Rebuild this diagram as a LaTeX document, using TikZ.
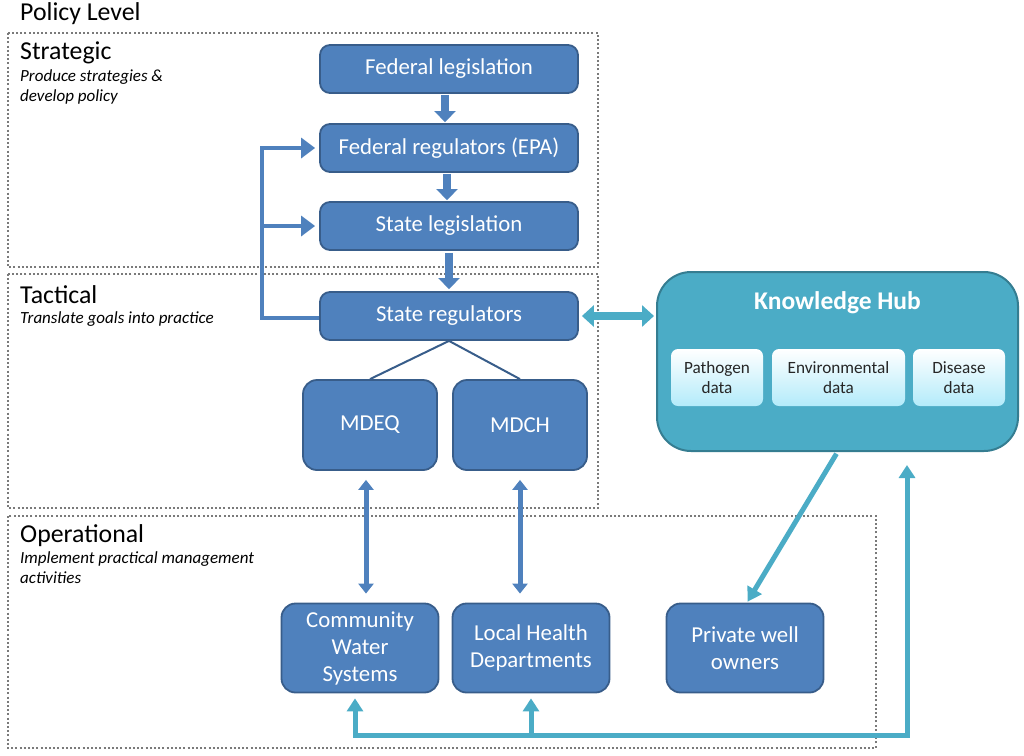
\documentclass[tikz,border=0pt]{standalone}
\usepackage{fontspec}
\setmainfont{Carlito}
\usetikzlibrary{arrows.meta}
\definecolor{bfill}{HTML}{4F81BD}
\definecolor{bdraw}{HTML}{385D8A}
\definecolor{tealf}{HTML}{4BACC6}
\definecolor{tealdraw}{HTML}{357D91}
\definecolor{lightc}{HTML}{B3EBFA}
\definecolor{dotgray}{HTML}{7A7A7A}
\begin{document}
\begin{tikzpicture}[x=1pt,y=-1pt,
  bbox/.style={draw=bdraw, fill=bfill, line width=1.8pt, rounded corners=10pt, text=white,
    font=\fontsize{22.8}{27}\selectfont, align=center, inner sep=0pt},
  inbox/.style={draw=none, top color=white, bottom color=lightc, rounded corners=7pt,
    font=\fontsize{17.2}{20}\selectfont, align=center, inner sep=0pt, text=black!85},
  levelbox/.style={draw=dotgray, line width=2pt, dash pattern=on 2pt off 2.2pt},
  lvltitle/.style={anchor=west, font=\fontsize{25.8}{30}\selectfont, inner sep=0pt},
  lvlsub/.style={anchor=north west, font=\fontsize{17}{20}\selectfont\itshape, align=left, inner sep=0pt},
  fatarrow/.style={draw=bfill, line width=8pt, -{Triangle[width=21pt,length=11pt]}},
  fbarrow/.style={draw=bfill, line width=4pt, -{Triangle[width=20pt,length=14pt]}},
  dblarrow/.style={draw=bfill, line width=5pt, {Triangle[width=15pt,length=10pt]}-{Triangle[width=15pt,length=10pt]}},
  tline/.style={draw=tealf, line width=5pt},
]
\useasboundingbox (0,0) rectangle (1024,755);

% level boxes
\draw[levelbox] (8,33) rectangle (598,267);
\draw[levelbox] (8,274) rectangle (598,508);
\draw[levelbox] (8,516) rectangle (876,748);

\node[lvltitle] (pl) at (20,14) {Policy Level};
\node[lvltitle] (st) at (20,53) {Strategic};
\node[lvlsub] (sts) at (20,69) {Produce strategies \&\\develop policy};
\node[lvltitle] (ta) at (20,295) {Tactical};
\node[lvlsub] (tas) at (20,311) {Translate goals into practice};
\node[lvltitle] (op) at (20,536) {Operational};
\node[lvlsub] (ops) at (20,551) {Implement practical management\\activities};

% main boxes
\node[bbox, minimum width=258pt, minimum height=48pt] (fleg) at (449,69) {Federal legislation};
\node[bbox, minimum width=258pt, minimum height=48pt] (freg) at (449,148) {Federal regulators (EPA)};
\node[bbox, minimum width=258pt, minimum height=48pt] (sleg) at (449,226) {State legislation};
\node[bbox, minimum width=258pt, minimum height=48pt] (sreg) at (449,316) {State regulators};
\node[bbox, minimum width=134pt, minimum height=90pt, rounded corners=14pt] (mdeq) at (370,425) {MDEQ};
\node[bbox, minimum width=134pt, minimum height=90pt, rounded corners=14pt] (mdch) at (520,425) {MDCH};
\node[bbox, minimum width=157pt, minimum height=89pt, rounded corners=14pt] (cws) at (360,648) {Community\\Water\\Systems};
\node[bbox, minimum width=157pt, minimum height=89pt, rounded corners=14pt] (lhd) at (531,648) {Local Health\\Departments};
\node[bbox, minimum width=157pt, minimum height=89pt, rounded corners=14pt] (pwo) at (745,648) {Private well\\owners};

% knowledge hub
\node[draw=tealdraw, fill=tealf, line width=2pt, rounded corners=34pt, minimum width=361pt, minimum height=179pt, inner sep=0pt] (kh) at (837.5,361.5) {};
\node[text=white, font=\fontsize{25.5}{30}\selectfont\bfseries, inner sep=0pt] (kht) at (837.5,303) {Knowledge Hub};
\node[inbox, minimum width=92pt, minimum height=57pt] (pd) at (717,377.5) {Pathogen\\data};
\node[inbox, minimum width=133pt, minimum height=57pt] (ed) at (838.5,377.5) {Environmental\\data};
\node[inbox, minimum width=92pt, minimum height=57pt] (dd) at (959,377.5) {Disease\\data};

% vertical fat arrows
\draw[fatarrow, shorten <=1pt, shorten >=1pt] ([xshift=-4pt]fleg.south) -- ([xshift=-4pt]freg.north);
\draw[fatarrow, shorten <=1pt, shorten >=1pt] ([xshift=-2pt]freg.south) -- ([xshift=-2pt]sleg.north);
\draw[fatarrow, shorten <=2pt, shorten >=2pt] (sleg.south) -- (sreg.north);

% feedback arrows
\coordinate (fbx) at (262,318);
\draw[fbarrow, shorten >=4pt] ([yshift=-2pt]sreg.west) -- (fbx) -- (fbx |- freg.west) -- (freg.west);
\draw[fbarrow, shorten >=4pt] (fbx |- sleg.west) -- (sleg.west);

% state regulators to MDEQ / MDCH
\draw[bdraw, line width=2pt] (mdeq.north) -- (sreg.south) -- (mdch.north);

% double arrows to operational level
\draw[dblarrow, shorten <=9pt, shorten >=9pt] ([xshift=-4pt]mdeq.south) -- ([xshift=6pt]cws.north);
\draw[dblarrow, shorten <=9pt, shorten >=9pt] (mdch.south) -- ([xshift=-11pt]lhd.north);

% state regulators <-> knowledge hub
\draw[draw=tealf, line width=8pt, {Triangle[width=21pt,length=12pt]}-{Triangle[width=21pt,length=12pt]}, shorten <=3pt, shorten >=2pt] (sreg.east) -- (sreg.east -| kh.west);

% knowledge hub -> private well owners
\draw[tline, -{Triangle[width=16pt,length=14pt]}, shorten <=2pt, shorten >=1pt] (kh.south) -- ([xshift=2pt]pwo.north);

% bottom feedback loop
\coordinate (corner) at (907,735);
\draw[tline, {Triangle[width=16pt,length=13pt]}-{Triangle[width=16pt,length=13pt]}, shorten <=5pt, shorten >=13pt]
  ([xshift=-5pt]cws.south) |- (corner) -- (kh.south -| corner);
\draw[tline, -{Triangle[width=16pt,length=13pt]}, shorten >=5pt] (lhd.south |- corner) -- (lhd.south);
\end{tikzpicture}
\end{document}
